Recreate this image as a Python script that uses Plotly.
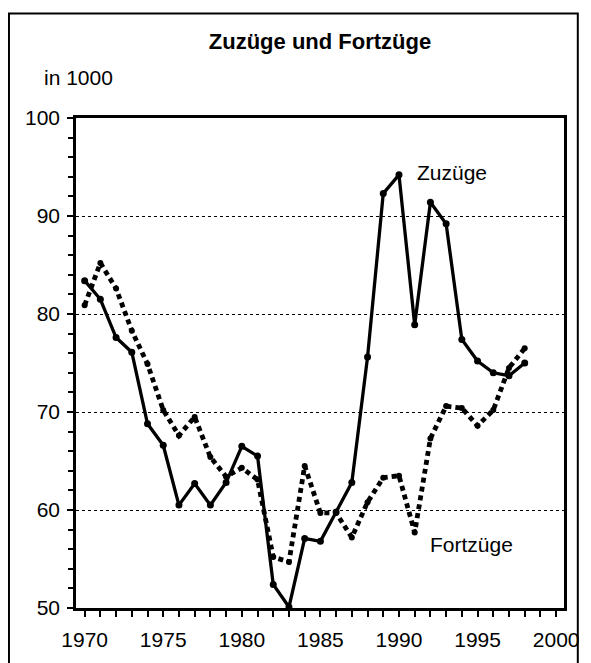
import plotly.graph_objects as go

years = list(range(1970, 1999))
zuzuege = [83.4, 81.5, 77.6, 76.1, 68.8, 66.6, 60.5, 62.7, 60.5, 62.8,
           66.5, 65.5, 52.4, 50.1, 57.1, 56.8, 59.8, 62.8, 75.6, 92.3,
           94.2, 78.9, 91.4, 89.2, 77.4, 75.2, 74.0, 73.7, 75.0]
fortzuege = [80.9, 85.2, 82.6, 78.3, 74.9, 70.2, 67.6, 69.5, 65.4, 63.4,
             64.3, 63.1, 55.2, 54.7, 64.5, 59.7, 59.7, 57.2, 60.8, 63.3,
             63.5, 57.7, 67.3, 70.6, 70.4, 68.6, 70.2, 74.5, 76.5]
x_ticks = [1970, 1975, 1980, 1985, 1990, 1995, 2000]
y_ticks = [50, 60, 70, 80, 90, 100]

FONT = "Liberation Sans Narrow, Arial Narrow, Liberation Sans, Arial, sans-serif"

# The page body has an 8px default margin; the figure is sized to fill the rest.
fig = go.Figure()
fig.add_trace(go.Scatter(
    x=years, y=fortzuege, mode="lines+markers", name="Fortzüge",
    line=dict(color="black", width=4.8, dash="5px,4px"),
    marker=dict(color="black", size=6), cliponaxis=False))
fig.add_trace(go.Scatter(
    x=years, y=zuzuege, mode="lines+markers", name="Zuzüge",
    line=dict(color="black", width=3.3),
    marker=dict(color="black", size=7), cliponaxis=False))

fig.update_layout(
    width=583, height=655,
    margin=dict(l=68, r=20, t=110, b=48),
    paper_bgcolor="white", plot_bgcolor="white",
    showlegend=False,
    font=dict(family=FONT, size=21, color="black"),
    title=dict(text="<b>Zuzüge und Fortzüge</b>", x=0.5, xref="paper",
               y=1 - 33 / 655, yref="container", yanchor="middle",
               font=dict(family=FONT, size=22, color="black")),
)

fig.update_xaxes(
    range=[1969.45, 2000.5], tickvals=x_ticks, ticktext=[str(v) for v in x_ticks],
    ticks="outside", ticklen=6, tickwidth=2, tickcolor="black",
    minor=dict(dtick=1, tick0=1970, ticks="outside", ticklen=6, tickwidth=2,
               tickcolor="black", showgrid=False),
    showline=True, linecolor="black", linewidth=2.5, mirror=True,
    showgrid=False, zeroline=False, tickfont=dict(size=21),
    ticklabelstandoff=5)
fig.update_yaxes(
    range=[50, 100], tickvals=y_ticks, ticktext=[str(v) for v in y_ticks],
    ticks="outside", ticklen=6, tickwidth=2, tickcolor="black",
    minor=dict(dtick=2, tick0=50, ticks="outside", ticklen=5, tickwidth=2,
               tickcolor="black", showgrid=False),
    showline=True, linecolor="black", linewidth=2.5, mirror=True,
    showgrid=True, gridcolor="black", gridwidth=1.2, griddash="dot",
    zeroline=False, tickfont=dict(size=21), ticklabelstandoff=3)

# outer frame
fig.add_shape(type="rect", xref="paper", yref="paper",
              x0=(8 - 76) / 495, x1=(585 - 76) / 495,
              y0=-0.3, y1=(615 - 12) / 497,
              line=dict(color="black", width=2), layer="below")

fig.add_annotation(text="in 1000", xref="paper", yref="paper",
                   x=(42 - 76) / 495, y=(615 - 77) / 497, xanchor="left",
                   yanchor="middle", showarrow=False, font=dict(size=21))
fig.add_annotation(text="Zuzüge", xref="paper", yref="paper",
                   x=(420 - 76) / 495, y=(615 - 173) / 497, xanchor="left",
                   yanchor="middle", showarrow=False, font=dict(size=21))
fig.add_annotation(text="Fortzüge", xref="paper", yref="paper",
                   x=(433 - 76) / 495, y=(615 - 551) / 497, xanchor="left",
                   yanchor="middle", showarrow=False, font=dict(size=21))

fig.write_html("out.html")
